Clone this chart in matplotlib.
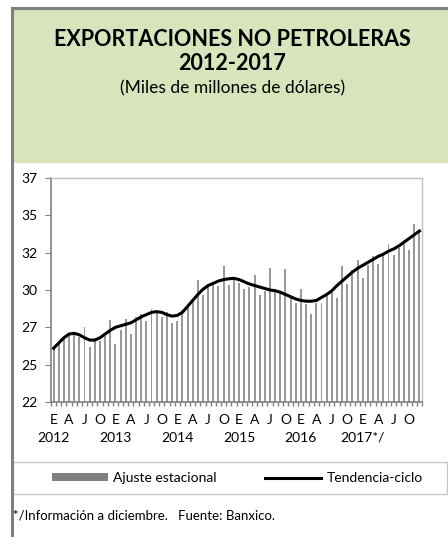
import matplotlib.pyplot as plt
from matplotlib.patches import Rectangle
from matplotlib.lines import Line2D
import matplotlib.transforms as mtransforms
import numpy as np

plt.rcParams['font.family'] = ['Lato', 'DejaVu Sans']

# monthly values, Jan 2012 .. Dec 2017 (miles de millones de dolares)
ajuste = [25.65, 26.05, 26.25, 26.65, 26.6, 26.35, 27.0, 25.65, 26.15, 26.1, 26.6, 27.5,
          25.9, 26.8, 27.55, 26.55, 27.7, 27.9, 27.45, 28.25, 27.95, 27.7, 28.05, 27.3,
          27.4, 28.15, 28.5, 28.85, 30.2, 29.15, 29.75, 30.0, 29.75, 31.1, 29.85, 30.2,
          29.95, 29.55, 29.7, 30.5, 29.15, 29.45, 30.95, 29.55, 29.4, 30.9, 28.95, 28.6,
          29.6, 28.55, 27.9, 28.65, 28.6, 29.1, 29.6, 28.95, 31.1, 29.9, 30.85, 31.5,
          30.3, 31.2, 31.8, 31.25, 32.0, 32.6, 31.85, 32.3, 32.65, 32.2, 33.9, 33.5]
tendencia = [25.6, 25.95, 26.3, 26.55, 26.6, 26.5, 26.3, 26.15, 26.15, 26.3, 26.55, 26.8,
             27.0, 27.1, 27.2, 27.3, 27.5, 27.7, 27.85, 28.0, 28.05, 28.0, 27.85, 27.75,
             27.8, 28.0, 28.4, 28.8, 29.2, 29.55, 29.8, 29.95, 30.1, 30.2, 30.25, 30.28,
             30.2, 30.05, 29.9, 29.8, 29.7, 29.6, 29.5, 29.45, 29.35, 29.2, 29.05, 28.9,
             28.8, 28.75, 28.75, 28.8, 29.0, 29.2, 29.45, 29.8, 30.1, 30.4, 30.7, 30.95,
             31.15, 31.35, 31.55, 31.75, 31.9, 32.1, 32.25, 32.45, 32.7, 32.95, 33.2, 33.45]
years = ['2012', '2013', '2014', '2015', '2016', '2017*/']
month_letters = ['E', 'A', 'J', 'O']
yticks = [22, 24.5, 27, 29.5, 32, 34.5, 37]
ylabels = ['22', '25', '27', '30', '32', '35', '37']

W, H = 448, 537
fig = plt.figure(figsize=(W / 100, H / 100), dpi=100)

# title panel and frame
fig.patches.append(Rectangle((13 / W, 1 - 163 / H), 1, 153 / H, transform=fig.transFigure,
                             facecolor='#d8e4bc', edgecolor='none', zorder=0))
fig.add_artist(Line2D([12 / W, 12 / W], [0, 1 - 8 / H], color='#808080', lw=2.2))
fig.add_artist(Line2D([12 / W, 1], [1 - 8 / H, 1 - 8 / H], color='#808080', lw=2.2))

fig.text(0.518, 1 - 40 / H, 'EXPORTACIONES NO PETROLERAS', ha='center', va='center',
         fontsize=15.5, fontweight='bold')
fig.text(0.518, 1 - 63 / H, '2012-2017', ha='center', va='center',
         fontsize=15.5, fontweight='bold')
fig.text(0.518, 1 - 88 / H, '(Miles de millones de dólares)', ha='center', va='center',
         fontsize=12.5)

ax = fig.add_axes([51 / W, 1 - 402 / H, 371 / W, 224 / H])
x = np.arange(len(ajuste))
ax.bar(x, np.array(ajuste) - 22, bottom=22, width=0.38, color='#999999')
ax.plot(x, tendencia, color='black', lw=2.2)

ax.set_xlim(-0.5, len(ajuste) - 0.5)
ax.set_ylim(22, 37)
ax.set_yticks(yticks)
ax.set_yticklabels(ylabels, fontsize=10)

pos = np.arange(0, len(ajuste), 3)
ax.set_xticks(pos)
ax.set_xticklabels([month_letters[(p % 12) // 3] for p in pos], fontsize=10)
ax.tick_params(axis='x', length=0, pad=9)
ax.set_xticks(np.arange(-0.5, len(ajuste), 1), minor=True)
ax.tick_params(axis='x', which='minor', length=3, color='#808080', width=1)
ax.tick_params(axis='y', length=4, color='#808080', pad=6)

# year labels under each January
trans = mtransforms.blended_transform_factory(ax.transData, fig.transFigure)
for i, yr in enumerate(years):
    ax.text(i * 12, 1 - 438 / H, yr, transform=trans, ha='center', va='center',
            fontsize=10)

for s in ['left', 'bottom']:
    ax.spines[s].set_color('#808080')
    ax.spines[s].set_linewidth(1.2)
for s in ['top', 'right']:
    ax.spines[s].set_color('#c0c0c0')
    ax.spines[s].set_linewidth(1)

# legend box
fig.patches.append(Rectangle((13 / W, 1 - 494 / H), 434 / W, 32 / H, transform=fig.transFigure,
                             facecolor='white', edgecolor='#c8c8c8', lw=1))
handles = [Rectangle((0, 0), 1, 1, facecolor='#808080'),
           Line2D([0], [0], color='black', lw=2.2)]
fig.legend(handles, ['Ajuste estacional', 'Tendencia-ciclo'], loc='center',
           bbox_to_anchor=(0.53, 1 - 478 / H), ncol=2, frameon=False,
           fontsize=10, handlelength=4, handleheight=0.45, columnspacing=3.5, handletextpad=0.4)

fig.text(13 / W, 1 - 516 / H, '*/Información a diciembre.   Fuente: Banxico.',
         ha='left', va='center', fontsize=9.5)

fig.savefig('out.png', dpi=100)
